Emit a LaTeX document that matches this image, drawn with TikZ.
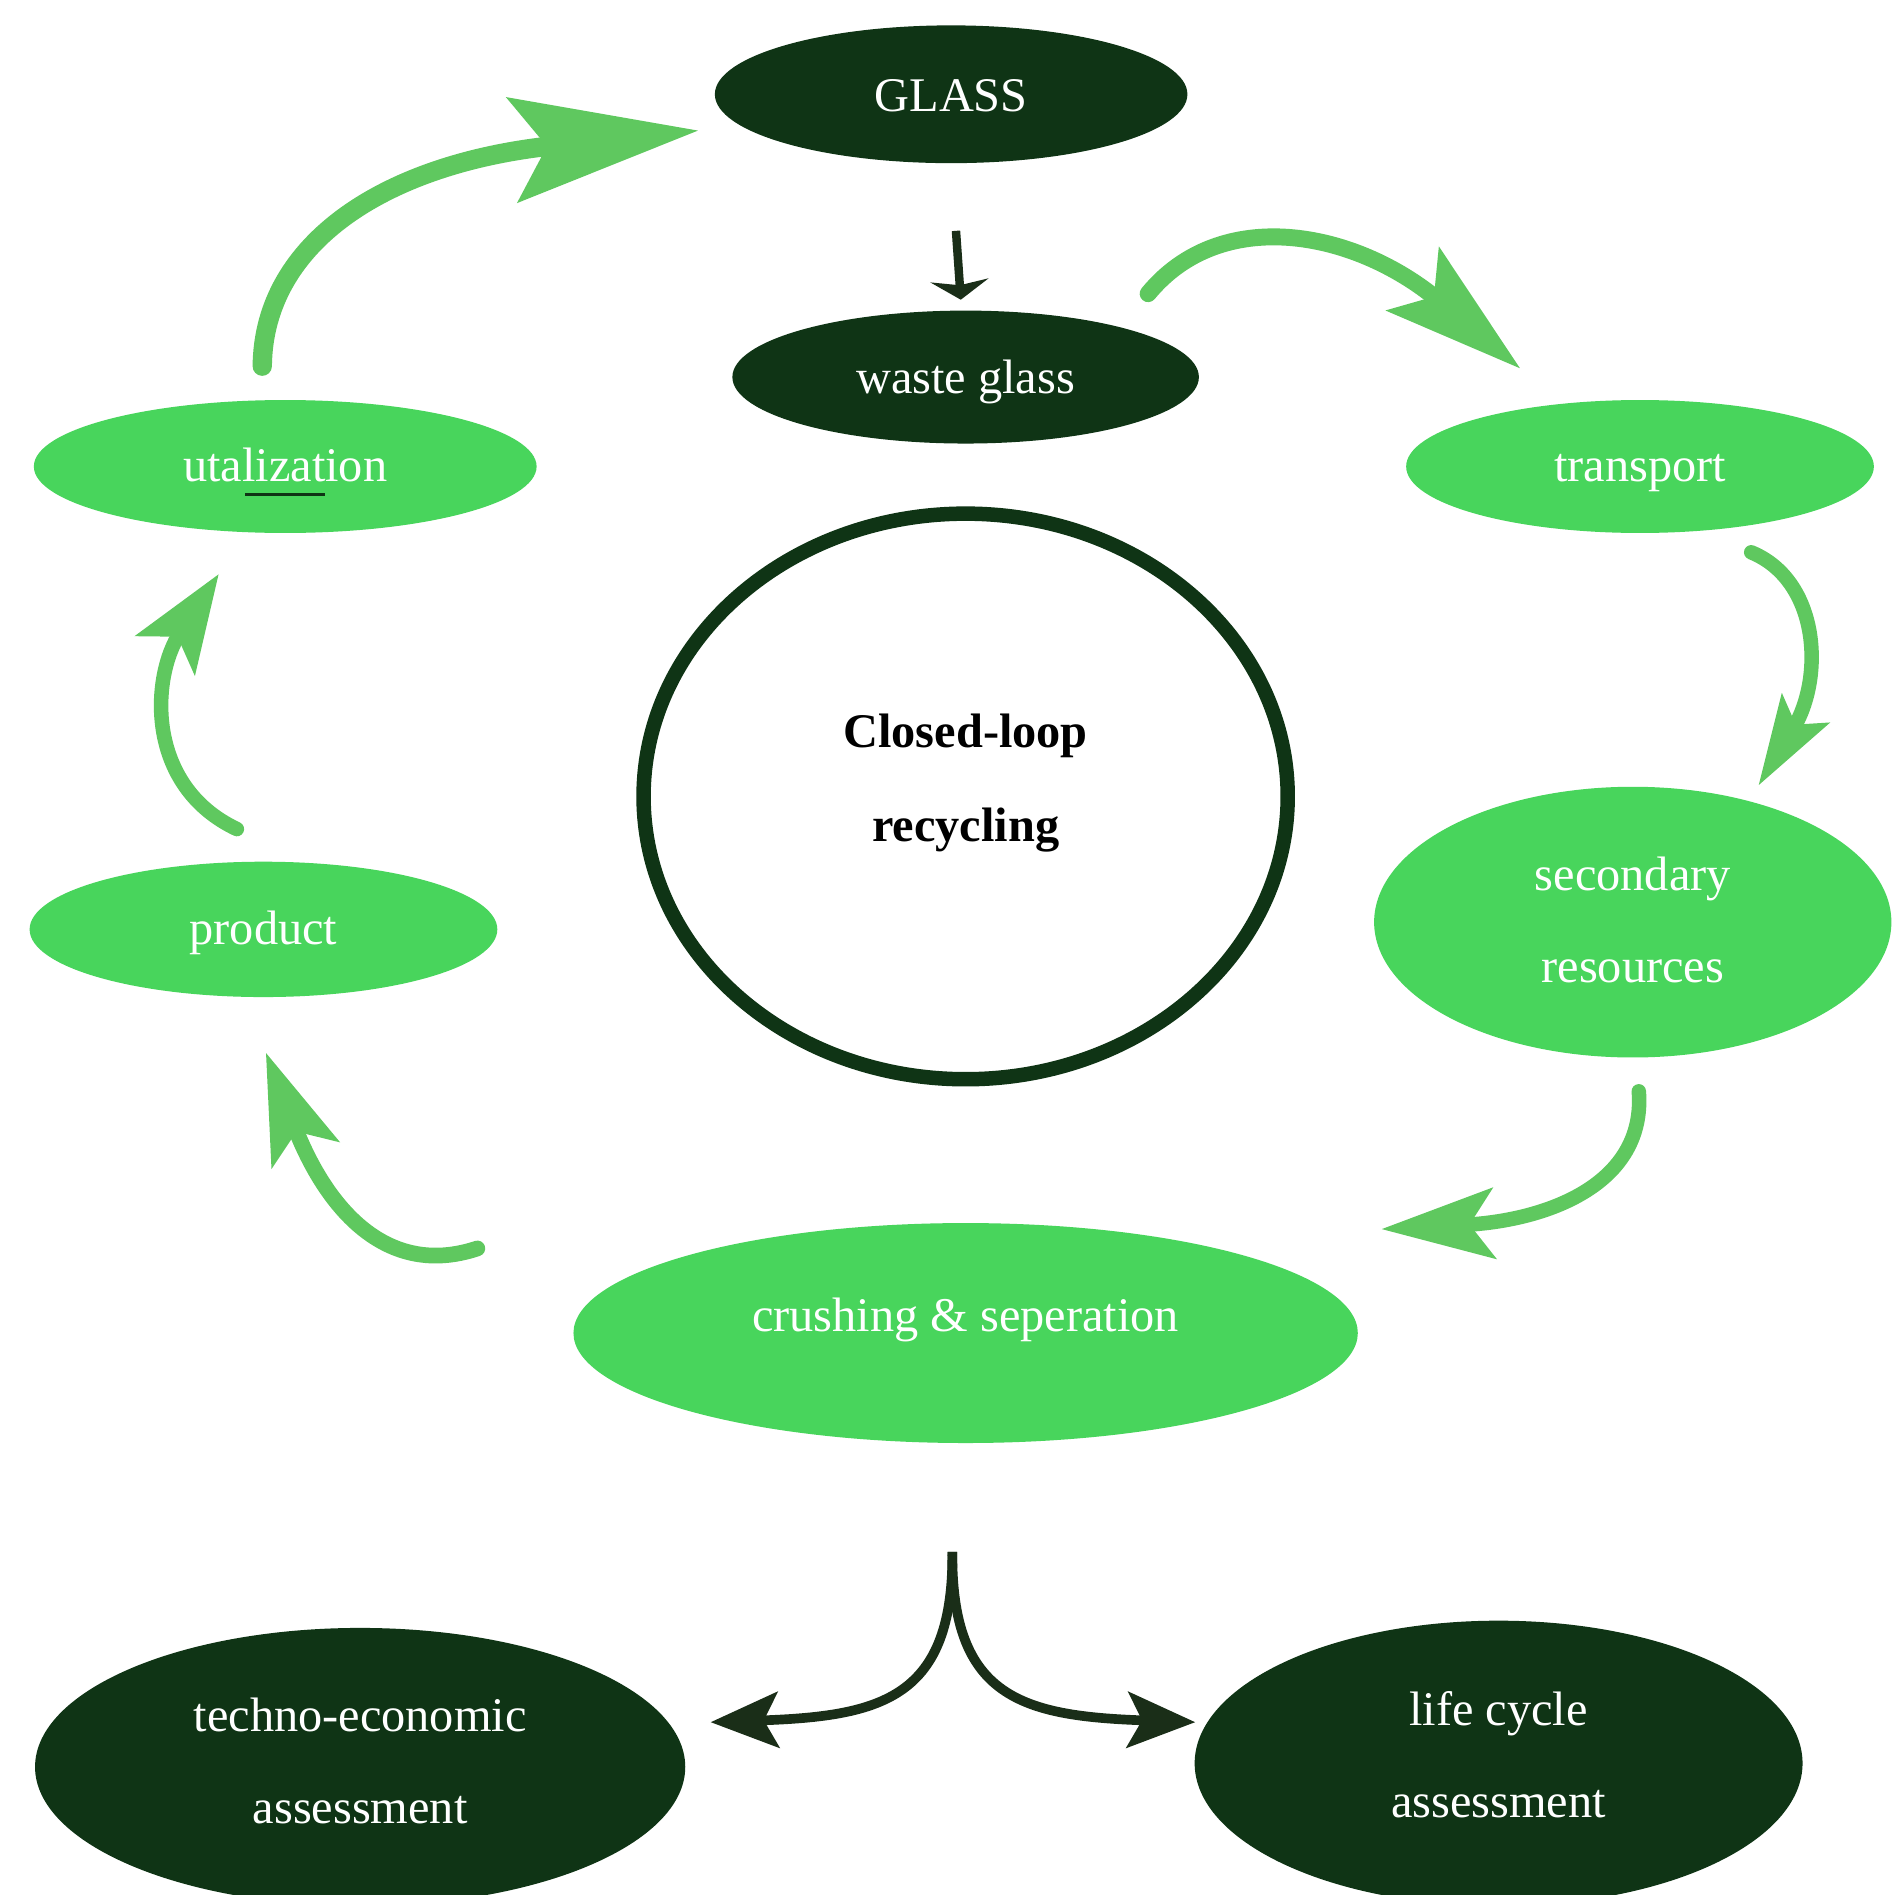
\documentclass[tikz,border=0pt]{standalone}
\usepackage{fontspec}
\setmainfont{Liberation Serif}
\usetikzlibrary{shapes.geometric,arrows.meta}

\definecolor{deepgreen}{HTML}{0F3415}
\definecolor{leafgreen}{HTML}{48D55C}
\definecolor{arrowgreen}{HTML}{5FC85F}
\definecolor{arrowdark}{HTML}{1A2E18}

\begin{document}
\begin{tikzpicture}[x=1pt,y=-1pt,
      every node/.style={font=\fontsize{40}{76}\selectfont, text=white, align=center, inner sep=0pt},
      darkblob/.style={ellipse, fill=deepgreen},
      lightblob/.style={ellipse, fill=leafgreen},
      loopring/.style={ellipse, draw=deepgreen, line width=12pt},
      greenarrow/.style={draw=arrowgreen, line cap=round},
      darkarrow/.style={draw=arrowdark}]

    \fill[white] (0,0) rectangle (1565,1568);
    \useasboundingbox (0,0) rectangle (1565,1568);

      \node [darkblob, minimum width=391pt, minimum height=114pt] (gls) at (787,78) {};
      \node (glstxt) at (787,79) {GLASS};
      \node [darkblob, minimum width=386pt, minimum height=110pt] (wst) at (799,312) {};
      \node (wsttxt) at (799,316) {waste glass};
      \node [lightblob, minimum width=416pt, minimum height=110pt] (utl) at (236,386) {};
      \node (utltxt) at (236,385) {utalization};
      \node [lightblob, minimum width=387pt, minimum height=110pt] (trn) at (1357,386) {};
      \node (trntxt) at (1357,391) {transport};
      \node [loopring, minimum width=533pt, minimum height=468pt] (clr) at (799,659) {};
      \node [text=black, font=\fontsize{40}{78}\selectfont\bfseries] (clrtxt) at (799,648) {Closed-loop\\recycling};
      \node [lightblob, minimum width=428pt, minimum height=224pt] (sec) at (1351,763) {};
      \node (sectxt) at (1351,761) {secondary\\resources};
      \node [lightblob, minimum width=387pt, minimum height=112pt] (prd) at (218,769) {};
      \node (prdtxt) at (218,772) {product};
      \node [lightblob, minimum width=649pt, minimum height=182pt] (crs) at (799,1103) {};
      \node (crstxt) at (799,1092) {crushing \& seperation};
      \node [darkblob, minimum width=538pt, minimum height=230pt] (tea) at (298,1462) {};
      \node (teatxt) at (298,1457) {techno-economic\\assessment};
      \node [darkblob, minimum width=503pt, minimum height=236pt] (lca) at (1240,1459) {};
      \node (lcatxt) at (1240,1452) {life cycle\\assessment};

      \draw [deepgreen, line width=2pt] ([xshift=-33pt,yshift=-23pt]utl.center) -- ([xshift=33pt,yshift=-23pt]utl.center);

      \coordinate (utlout) at (217,303);
      \coordinate (glsin) at (578,108);
      \coordinate (glsout) at (791,191);
      \coordinate (wstin) at (795,248);
      \coordinate (wstout) at (950,243);
      \coordinate (trnin) at (1258,305);
      \coordinate (trnout) at (1449,457);
      \coordinate (secin) at (1455,650);
      \coordinate (secout) at (1356,903);
      \coordinate (crsin) at (1143,1017);
      \coordinate (crsout) at (395,1033);
      \coordinate (prdin) at (220,871);
      \coordinate (prdout) at (196,686);
      \coordinate (utlin) at (181,475);
      \coordinate (crsfork) at (788,1284);
      \coordinate (teain) at (588,1425);
      \coordinate (lcain) at (989,1425);

      \draw [greenarrow, line width=16pt, -{Stealth[length=154pt,width=86pt,inset=28pt]}]
        (utlout) .. controls (218,200) and (320,135) .. (glsin);
      \draw [darkarrow, line width=7pt, -{Stealth[length=16pt,width=48pt,inset=4pt]}]
        (glsout) -- (wstin);
      \draw [greenarrow, line width=14pt, -{Stealth[length=115pt,width=67pt,inset=22pt]}]
        (wstout) .. controls (1010,170) and (1120,190) .. (trnin);
      \draw [greenarrow, line width=12pt, -{Stealth[length=74pt,width=45pt,inset=15pt]}]
        (trnout) .. controls (1505,480) and (1510,560) .. (secin);
      \draw [greenarrow, line width=12pt, -{Stealth[length=93pt,width=58pt,inset=20pt]}]
        (secout) .. controls (1362,980) and (1280,1010) .. (crsin);
      \draw [greenarrow, line width=13pt, -{Stealth[length=90pt,width=59pt,inset=20pt]}]
        (crsout) .. controls (320,1058) and (270,1000) .. (prdin);
      \draw [greenarrow, line width=12pt, -{Stealth[length=80pt,width=58pt,inset=18pt]}]
        (prdout) .. controls (120,650) and (125,560) .. (utlin);
      \draw [darkarrow, line width=8pt, -{Stealth[length=56pt,width=46pt,inset=12pt]}]
        (crsfork) .. controls (789,1405) and (730,1420) .. (teain);
      \draw [darkarrow, line width=8pt, -{Stealth[length=56pt,width=46pt,inset=12pt]}]
        (crsfork) .. controls (787,1405) and (846,1420) .. (lcain);

\end{tikzpicture}
\end{document}
